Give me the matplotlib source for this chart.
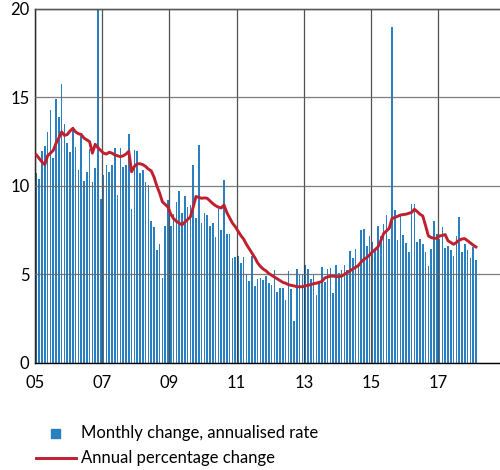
import numpy as np
import matplotlib.pyplot as plt
from matplotlib.lines import Line2D
from matplotlib.patches import Rectangle

plt.rcParams['font.family'] = ['Lato', 'DejaVu Sans']

# Monthly change, annualised rate (Jan 2005 - Feb 2018)
monthly = [
    10.75, 10.4, 11.95, 12.27, 13.07, 14.27, 11.57, 14.9, 13.9, 15.73, 13.48, 12.42,   # 2005
    11.91, 13.33, 12.2, 10.9, 12.8, 10.3, 10.8, 12.1, 10.2, 11.0, 20.5, 9.27,         # 2006
    10.64, 11.2, 10.79, 11.2, 12.13, 9.5, 12.13, 11.05, 11.18, 12.96, 8.7, 12.02,     # 2007
    11.98, 10.75, 10.9, 10.22, 10.05, 8.0, 7.7, 6.36, 6.74, 4.8, 7.75, 9.2,           # 2008
    7.75, 8.4, 9.07, 9.7, 8.45, 9.43, 8.8, 8.9, 11.2, 8.2, 12.3, 7.9,                 # 2009
    8.45, 8.35, 7.75, 7.9, 7.1, 8.85, 7.5, 10.35, 7.3, 7.3, 5.95, 6.0,                # 2010
    6.05, 5.65, 6.0, 5.0, 4.6, 6.05, 4.35, 4.75, 4.8, 4.7, 4.9, 4.53,                 # 2011
    4.41, 5.23, 4.0, 4.24, 4.24, 3.54, 5.17, 4.15, 2.39, 5.28, 4.94, 4.94,            # 2012
    5.51, 5.28, 4.72, 4.98, 3.83, 4.6, 5.4, 4.58, 5.32, 5.36, 3.96, 5.51,             # 2013
    5.09, 5.23, 5.51, 5.23, 6.33, 5.93, 6.42, 5.6, 7.5, 7.57, 6.6, 7.19,              # 2014
    6.84, 6.46, 7.75, 7.14, 7.83, 8.36, 6.99, 19.0, 8.63, 6.95, 8.27, 7.23,           # 2015
    6.76, 6.27, 9.0, 9.0, 6.85, 6.99, 6.72, 6.27, 5.48, 6.42, 8.0, 7.27,              # 2016
    7.0, 7.7, 6.5, 6.6, 6.4, 6.03, 7.17, 8.24, 6.24, 6.69, 6.35, 5.94,                # 2017
    6.53, 5.8,                                                                        # 2018
]

# Annual percentage change
annual = [
    11.75, 11.55, 11.35, 11.2, 11.7, 11.85, 12.0, 12.4, 12.7, 13.05, 12.85, 12.9,
    13.1, 13.25, 13.05, 12.95, 12.9, 12.7, 12.6, 12.5, 11.85, 12.35, 12.15, 12.0,
    11.85, 11.8, 11.9, 11.85, 11.75, 11.7, 11.65, 11.7, 11.8, 11.95, 10.8, 11.1,
    11.25, 11.25, 11.2, 11.1, 10.95, 10.85, 10.5, 10.0, 9.6, 9.1, 8.95, 8.8,
    8.4, 8.15, 8.0, 7.9, 7.8, 7.95, 8.1, 8.25, 8.8, 9.4, 9.35, 9.3,
    9.32, 9.3, 9.15, 9.0, 8.88, 8.8, 8.75, 8.92, 8.5, 8.2, 7.9, 7.7,
    7.45, 7.2, 7.0, 6.7, 6.45, 6.2, 5.95, 5.65, 5.45, 5.3, 5.2, 5.05,
    4.95, 4.85, 4.75, 4.65, 4.55, 4.5, 4.42, 4.38, 4.35, 4.3, 4.3, 4.3,
    4.35, 4.38, 4.42, 4.47, 4.5, 4.55, 4.6, 4.8, 4.85, 4.9, 4.9, 4.88,
    4.87, 4.9, 5.0, 5.1, 5.2, 5.3, 5.4, 5.5, 5.7, 5.85, 5.95, 6.1,
    6.27, 6.4, 6.55, 6.9, 7.3, 7.45, 7.6, 8.15, 8.22, 8.28, 8.35, 8.38,
    8.4, 8.45, 8.5, 8.68, 8.55, 8.4, 8.3, 7.75, 7.17, 7.08, 7.04, 7.04,
    7.17, 7.2, 7.25, 6.9, 6.8, 6.7, 6.8, 6.93, 7.0, 7.02, 6.9, 6.78,
    6.65, 6.55,
]

xticks = [2005, 2007, 2009, 2011, 2013, 2015, 2017]
xticklabels = ['05', '07', '09', '11', '13', '15', '17']
yticks = [0, 5, 10, 15, 20]

bar_col = '#2a7fc1'
line_col = '#c0202e'

t = 2005 + (np.arange(len(monthly)) + 0.5) / 12.0

fig = plt.figure(figsize=(5.0, 4.7), dpi=100)
ax = fig.add_axes([0.07, 0.228, 0.93, 0.753])

ax.bar(t, monthly, width=0.62 / 12, color=bar_col, zorder=1)
ax.plot(t, annual, color=line_col, lw=2.1, zorder=3)

ax.set_xlim(2005, 2018.84)
ax.set_ylim(0, 20)
ax.set_xticks(xticks)
ax.set_xticklabels(xticklabels)
ax.set_yticks(yticks)

# grid lines sit over the bars, under the red line
ax.set_axisbelow(False)
ax.grid(axis='x', color='#333333', lw=0.9, alpha=0.85)
ax.grid(axis='y', color='#666666', lw=0.9, alpha=0.85)
for s in ['left', 'top', 'bottom']:
    ax.spines[s].set_color('black')
    ax.spines[s].set_linewidth(1.0)
ax.spines['right'].set_visible(False)
ax.tick_params(axis='both', length=0, labelsize=12, colors='black')
ax.tick_params(axis='x', pad=9)
ax.tick_params(axis='y', pad=4)

# legend drawn below the plot
fig.patches.append(Rectangle((51 / 500, 1 - 438 / 470), 9 / 500, 9 / 470,
                             transform=fig.transFigure, color=bar_col, figure=fig))
fig.text(81 / 500, 1 - 433 / 470, 'Monthly change, annualised rate',
         fontsize=12, va='center', ha='left')
fig.add_artist(Line2D([36 / 500, 76 / 500], [1 - 458 / 470, 1 - 458 / 470],
                      color=line_col, lw=2.1, transform=fig.transFigure))
fig.text(81 / 500, 1 - 458 / 470, 'Annual percentage change',
         fontsize=12, va='center', ha='left')

fig.savefig('out.png', dpi=100)
